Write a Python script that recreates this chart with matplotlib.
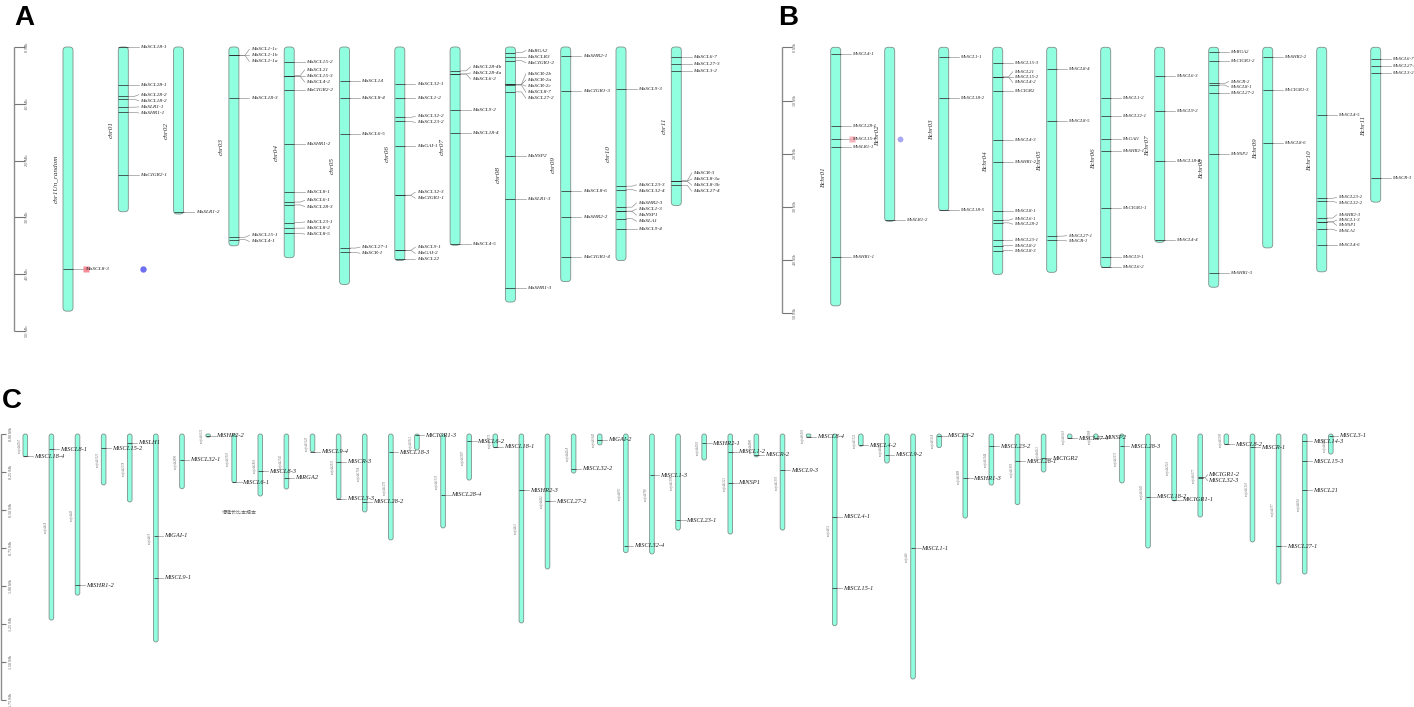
#!/usr/bin/env python

'''Chromosome maps of the SCL/GRAS genes for three genomes (A, B and scaffolds C).'''

import matplotlib
matplotlib.use('Agg')
import matplotlib.pyplot as plt
from matplotlib.patches import FancyBboxPatch

W, H = 1414, 707

########################################################################
# Panel A, lengths and gene positions in Mb

a_chroms = ['chr1Un_random', 'chr01', 'chr02', 'chr03', 'chr04', 'chr05',
            'chr06', 'chr07', 'chr08', 'chr09', 'chr10', 'chr11']
a_lengths = [46.5, 29.0, 29.4, 35.0, 37.1, 41.8, 37.6, 34.9, 44.9, 41.3, 37.6, 27.9]
a_gene_names = [
    ['MaSCL8-3'],
    ['MaSCL18-1', 'MaSCL28-1', 'MaSCL28-2', 'MaSCL18-2', 'MaSLR1-1', 'MaSHR1-1', 'MaCIGR2-1'],
    ['MaSLR1-2'],
    ['MaSCL1-1c', 'MaSCL1-1b', 'MaSCL1-1a', 'MaSCL18-3', 'MaSCL15-1', 'MaSCL4-1'],
    ['MaSCL15-2', 'MaSCL21', 'MaSCL15-3', 'MaSCL4-2', 'MaCIGR2-2', 'MaSHR1-2', 'MaSCL8-1',
     'MaSCL6-1', 'MaSCL28-3', 'MaSCL23-1', 'MaSCL8-2', 'MaSCL8-5'],
    ['MaSCL14', 'MaSCL8-4', 'MaSCL6-5', 'MaSCL27-1', 'MaSCR-1'],
    ['MaSCL32-1', 'MaSCL1-2', 'MaSCL32-2', 'MaSCL23-2', 'MaGAI-1', 'MaSCL32-3', 'MaCIGR1-1',
     'MaSCL9-1', 'MaGAI-2', 'MaSCL22'],
    ['MaSCL28-4b', 'MaSCL28-4a', 'MaSCL6-2', 'MaSCL9-2', 'MaSCL18-4', 'MaSCL4-5'],
    ['MaRGA2', 'MaSCLR3', 'MaCIGR1-2', 'MaSCR-2b', 'MaSCR-2a', 'MaSCR-2c', 'MaSCL8-7',
     'MaSCL27-2', 'MaNSP2', 'MaSLR1-3', 'MaSHR1-3'],
    ['MaSHR2-1', 'MaCIGR1-3', 'MaSCL8-6', 'MaSHR2-2', 'MaCIGR1-4'],
    ['MaSCL9-3', 'MaSCL23-3', 'MaSCL32-4', 'MaSHR2-3', 'MaSCL1-3', 'MaNSP1', 'MaSLA1', 'MaSCL9-4'],
    ['MaSCL6-7', 'MaSCL27-3', 'MaSCL3-2', 'MaSCR-3', 'MaSCL8-3a', 'MaSCL8-3b', 'MaSCL27-4'],
]
a_gene_pos = [
    [39.1],
    [0.0, 6.75, 8.7, 9.2, 10.6, 11.5, 22.6],
    [29.05],
    [1.47, 1.47, 1.47, 9.0, 33.5, 33.9],
    [2.6, 5.05, 5.1, 5.15, 7.6, 17.1, 25.6, 27.3, 27.8, 30.9, 31.9, 32.8],
    [5.9, 9.0, 15.3, 35.4, 36.15],
    [6.5, 9.0, 12.4, 13.1, 17.5, 26.1, 26.1, 35.8, 35.8, 37.4],
    [4.2, 4.75, 4.75, 11.15, 15.2, 34.6],
    [1.0, 1.7, 2.4, 6.6, 6.6, 6.6, 6.7, 7.9, 19.2, 26.8, 42.4],
    [1.5, 7.8, 25.4, 29.9, 36.9],
    [7.45, 24.5, 25.1, 28.2, 28.9, 28.95, 30.2, 32.0],
    [1.8, 3.05, 4.2, 23.55, 23.6, 23.65, 24.35],
]

########################################################################
# Panel B

b_chroms = ['Bchr01', 'Bchr02', 'Bchr03', 'Bchr04', 'Bchr05', 'Bchr06',
            'Bchr07', 'Bchr08', 'Bchr09', 'Bchr10', 'Bchr11']
b_lengths = [48.6, 32.7, 30.7, 42.7, 42.3, 41.4, 36.65, 45.1, 37.7, 42.2, 29.1]
b_gene_names = [
    ['MbSCL4-1', 'MbSCL28-1', 'MbSCL15-1', 'MbSLR1-1', 'MbSHR1-1'],
    ['MbSLR1-2'],
    ['MbSCL1-1', 'MbSCL18-2', 'MbSCL18-5'],
    ['MbSCL15-3', 'MbSCL21', 'MbSCL15-2', 'MbSCL4-2', 'MbCIGR2', 'MbSCL4-3', 'MbSHR1-2',
     'MbSCL8-1', 'MbSCL6-1', 'MbSCL28-2', 'MbSCL23-1', 'MbSCL8-2', 'MbSCL8-3'],
    ['MbSCL8-4', 'MbSCL8-5', 'MbSCL27-1', 'MbSCR-1'],
    ['MbSCL1-2', 'MbSCL32-1', 'MbGAI1', 'MbSHR2-1', 'MbCIGR1-1', 'MbSCL9-1', 'MbSCL6-2'],
    ['MbSCL6-3', 'MbSCL9-2', 'MbSCL18-4', 'MbSCL4-4'],
    ['MbRGA2', 'MbCIGR1-2', 'MbSCR-2', 'MbSCL8-1', 'MbSCL27-2', 'MbNSP2', 'MbSHR1-3'],
    ['MbSHR2-2', 'MbCIGR1-3', 'MbSCL8-6'],
    ['MbSCL4-5', 'MbSCL23-2', 'MbSCL32-2', 'MbSHR2-3', 'MbSCL1-3', 'MbNSP1', 'MbSLA1', 'MbSCL4-6'],
    ['MbSCL6-7', 'MbSCL27-3', 'MbSCL3-2', 'MbSCR-3'],
]
b_gene_pos = [
    [1.3, 14.85, 17.3, 18.7, 39.5],
    [32.5],
    [1.9, 9.5, 30.6],
    [2.95, 5.55, 5.6, 5.65, 8.3, 17.5, 21.5, 30.8, 32.5, 33.0, 36.3, 37.3, 38.2],
    [4.1, 13.85, 35.5, 36.3],
    [9.6, 13.0, 17.3, 19.4, 30.3, 39.35, 41.3],
    [5.45, 12.0, 21.4, 36.3],
    [0.95, 2.6, 6.8, 7.1, 8.5, 20.1, 42.5],
    [1.9, 8.1, 18.05],
    [12.8, 28.4, 28.95, 32.1, 32.8, 32.85, 34.2, 37.2],
    [2.25, 3.6, 4.9, 24.6],
]

########################################################################
# Panel C, scaffolds

c_chroms = ['scaffold%d' % n for n in [
    4567, 14, 43, 3125, 2178, 19, 2890, 6132, 3310, 1866, 2745, 5120, 2031,
    1764, 1270, 5012, 1533, 3087, 5873, 11, 462, 4218, 5640, 871, 798, 1398,
    4102, 1121, 4980, 1350, 6301, 52, 5722, 4036, 6, 5218, 1489, 3244, 1903,
    4311, 6210, 6088, 3671, 1045, 2516, 1677, 5590, 1210, 377, 604, 4485]]
c_lengths = [0.15, 1.224, 1.06, 0.335, 0.447, 1.368, 0.36, 0.02, 0.32, 0.408, 0.362,
             0.118, 0.428, 0.513, 0.697, 0.105, 0.618, 0.303, 0.09, 1.243, 0.888,
             0.257, 0.072, 0.781, 0.789, 0.632, 0.171, 0.658, 0.151, 0.632, 0.02,
             1.261, 0.08, 0.191, 1.612, 0.09, 0.553, 0.336, 0.465, 0.25, 0.03,
             0.03, 0.322, 0.75, 0.44, 0.546, 0.07, 0.71, 0.987, 0.921, 0.132]
c_gene_names = [
    ['MiSCL18-4'], ['MiSCL8-1'], ['MiSHR1-2'], ['MiSCL15-2'], ['MiSLH1'],
    ['MiGAI-1', 'MiSCL9-1'], ['MiSCL32-1'], ['MiSHR2-2'], ['MiSCL6-1'], ['MiSCL8-3'],
    ['MiRGA2'], ['MiSCL9-4'], ['MiSCR-3', 'MiSCL3-3'], ['MiSCL28-2'], ['MiSCL18-3'],
    ['MiCIGR1-3'], ['MiSCL28-4'], ['MiSCL6-2'], ['MiSCL18-1'], ['MiSHR2-3'],
    ['MiSCL27-2'], ['MiSCL32-2'], ['MiGAI-2'], ['MiSCL32-4'], ['MiSCL1-3'],
    ['MiSCL23-1'], ['MiSHR2-1'], ['MiSCL1-2', 'MiNSP1'], ['MiSCR-2'], ['MiSCL9-3'],
    ['MiSCL8-4'], ['MiSCL4-1', 'MiSCL15-1'], ['MiSCL4-2'], ['MiSCL9-2'], ['MiSCL1-1'],
    ['MiSCL3-2'], ['MiSHR1-3'], ['MiSCL23-2'], ['MiSCL28-1'], ['MiCIGR2'],
    ['MiSCL27-4'], ['MiNSP2'], ['MiSCL28-3'], ['MiSCL18-2'], ['MiCIGR1-1'],
    ['MiCIGR1-2', 'MiSCL32-3'], ['MiSCL8-2'], ['MiSCR-1'], ['MiSCL27-1'],
    ['MiSCL14-3', 'MiSCL15-3', 'MiSCL21'], ['MiSCL3-1'],
]
c_gene_pos = [
    [0.145], [0.10], [0.995], [0.094], [0.059],
    [0.669, 0.945], [0.171], [0.013], [0.318], [0.245],
    [0.289], [0.116], [0.184, 0.426], [0.447], [0.12],
    [0.007], [0.401], [0.048], [0.083], [0.37],
    [0.443], [0.228], [0.039], [0.735], [0.27],
    [0.568], [0.061], [0.118, 0.32], [0.138], [0.239],
    [0.018], [0.546, 1.015], [0.074], [0.138], [0.752],
    [0.011], [0.292], [0.081], [0.178], [0.16],
    [0.028], [0.026], [0.079], [0.412], [0.432],
    [0.286, 0.288], [0.066], [0.088], [0.739],
    [0.048, 0.178, 0.37], [0.013],
]

a_ticks = [0, 10, 20, 30, 40, 50]
a_tick_labels = ['0 Mb', '10 Mb', '20 Mb', '30 Mb', '40 Mb', '50 Mb']
b_ticks = [0, 10, 20, 30, 40, 50]
b_tick_labels = ['0 Mb', '10 Mb', '20 Mb', '30 Mb', '40 Mb', '50 Mb']
c_ticks = [0, 0.25, 0.5, 0.75, 1.0, 1.25, 1.5, 1.75]
c_tick_labels = ['0.00 Mb', '0.25 Mb', '0.50 Mb', '0.75 Mb', '1.00 Mb', '1.25 Mb', '1.50 Mb', '1.75 Mb']

FILL = '#8fffdf'
EDGE = '#7f8f8a'
SERIF = 'Liberation Serif'

fig = plt.figure(figsize=(W / 100, H / 100), dpi=100)


def panel_axes(left, right, top, bottom, origin, px_per_mb):
    '''Axes with x in figure pixels and y in Mb, inverted.'''
    ax = fig.add_axes([left / W, 1 - bottom / H, (right - left) / W, (bottom - top) / H])
    ax.set_xlim(left, right)
    ax.set_ylim((bottom - origin) / px_per_mb, (top - origin) / px_per_mb)
    ax.axis('off')
    return ax


def spread(values, gap):
    '''Push sorted label positions apart so they keep a minimum gap.'''
    groups = []
    for v in values:
        groups.append([v, [v]])
        while len(groups) > 1:
            a, b = groups[-2], groups[-1]
            half_a = (len(a[1]) - 1) * gap / 2
            half_b = (len(b[1]) - 1) * gap / 2
            if a[0] + half_a + gap <= b[0] - half_b:
                break
            members = a[1] + b[1]
            groups[-2:] = [[sum(members) / len(members), members]]
    out = []
    for centre, members in groups:
        start = centre - (len(members) - 1) * gap / 2
        out += [start + i * gap for i in range(len(members))]
    return out


def draw_scale(ax, x, tick_len, ticks, labels, fontsize, label_dx):
    ax.plot([x, x], [ticks[0], ticks[-1]], color='#8c8c8c', lw=1.0, solid_capstyle='butt')
    for t, lab in zip(ticks, labels):
        ax.plot([x, x + tick_len], [t, t], color='#777777', lw=0.8, solid_capstyle='butt')
        ax.text(x + tick_len + label_dx, t, lab, rotation=90, ha='center', va='center',
                fontsize=fontsize, family=SERIF, color='#555555')


def draw_map(ax, xs, names, lengths, gene_names, gene_pos, ppm, width, radius,
             flat, slant, text_dx, label_dx, gene_fs, name_fs, gap, name_color):
    for x, name, length, g_names, g_pos in zip(xs, names, lengths, gene_names, gene_pos):
        rounding = min(radius, width / 2, length * ppm / 2)
        ax.add_patch(FancyBboxPatch(
            (x - width / 2, 0), width, length,
            boxstyle='round,pad=0,rounding_size=%f' % rounding,
            mutation_aspect=1 / ppm, fc=FILL, ec=EDGE, lw=0.6, zorder=2))
        ax.text(x + label_dx, length / 2, name, rotation=90, ha='center', va='center',
                fontsize=name_fs, family=SERIF, style='italic', color=name_color)
        label_pos = [p / ppm for p in spread([v * ppm for v in g_pos], gap)]
        for gene, y, ly in zip(g_names, g_pos, label_pos):
            ax.plot([x - width / 2, x + width / 2], [y, y], color='#303030', lw=0.55, zorder=3,
                    solid_capstyle='butt')
            ax.plot([x + width / 2, x + flat, x + slant], [y, y, ly], color='#8a8a8a', lw=0.45, zorder=1)
            ax.text(x + text_dx, ly, gene, ha='left', va='center', fontsize=gene_fs,
                    family=SERIF, style='italic', color='#222222', zorder=4)


########################################################################
# Panel A

ax_a = panel_axes(0, 770, 30, 350, 47, 5.68)
a_xs = [68 + 55.3 * i for i in range(len(a_chroms))]
draw_scale(ax_a, 13.5, 11, a_ticks, a_tick_labels, 3.2, 3)
draw_map(ax_a, a_xs, a_chroms, a_lengths, a_gene_names, a_gene_pos, 5.68, 10, 3.5,
         11, 15.5, 17, -12.5, 3.9, 5.2, 6.1, '#333333')
ax_a.plot(a_xs[0] + 17.5, a_gene_pos[0][0], 's', ms=4.8, mfc='#f4717f', mec='none', alpha=0.8, zorder=3)
ax_a.plot(a_xs[0] + 75, a_gene_pos[0][0], 'o', ms=4.6, mfc='#6f6ff2', mec='none', zorder=3)

########################################################################
# Panel B

ax_b = panel_axes(770, W, 30, 350, 47.3, 5.32)
b_xs = [835.7 + 54 * i for i in range(len(b_chroms))]
draw_scale(ax_b, 782, 10, b_ticks, b_tick_labels, 3.0, 3)
draw_map(ax_b, b_xs, b_chroms, b_lengths, b_gene_names, b_gene_pos, 5.32, 10, 3.5,
         11, 15, 16, -12.5, 3.55, 5.0, 5.3, '#333333')
ax_b.plot(b_xs[0] + 16.5, b_gene_pos[0][2], 's', ms=4, mfc='#f4a0aa', mec='none', alpha=0.8, zorder=3)
ax_b.plot(b_xs[1] + 10.3, b_gene_pos[0][2], 'o', ms=4.2, mfc='#a8a8f2', mec='none', zorder=3)

########################################################################
# Panel C

ax_c = panel_axes(0, W, 375, H, 434, 152)
c_xs = [25.3 + 26.11 * i for i in range(len(c_chroms))]
draw_scale(ax_c, 1, 4.5, c_ticks, c_tick_labels, 3.0, 5)
draw_map(ax_c, c_xs, c_chroms, c_lengths, c_gene_names, c_gene_pos, 152, 4.6, 2.3,
         5, 7.5, 8.3, -5.8, 4.7, 2.1, 6, '#666666')
ax_c.text(239, (512 - 434) / 152, '滑键长比本规本', ha='center', va='center',
          fontsize=3.6, family=['Noto Sans CJK SC', 'DejaVu Sans'], color='#666666')

########################################################################
# Panel letters

fig.text(14 / W, 1 - 25 / H, 'A', fontsize=20, family='Liberation Sans', weight='bold', va='baseline')
fig.text(778 / W, 1 - 25 / H, 'B', fontsize=20, family='Liberation Sans', weight='bold', va='baseline')
fig.text(2 / W, 1 - 408 / H, 'C', fontsize=20, family='Liberation Sans', weight='bold', va='baseline')

fig.savefig('out.png', dpi=100)
